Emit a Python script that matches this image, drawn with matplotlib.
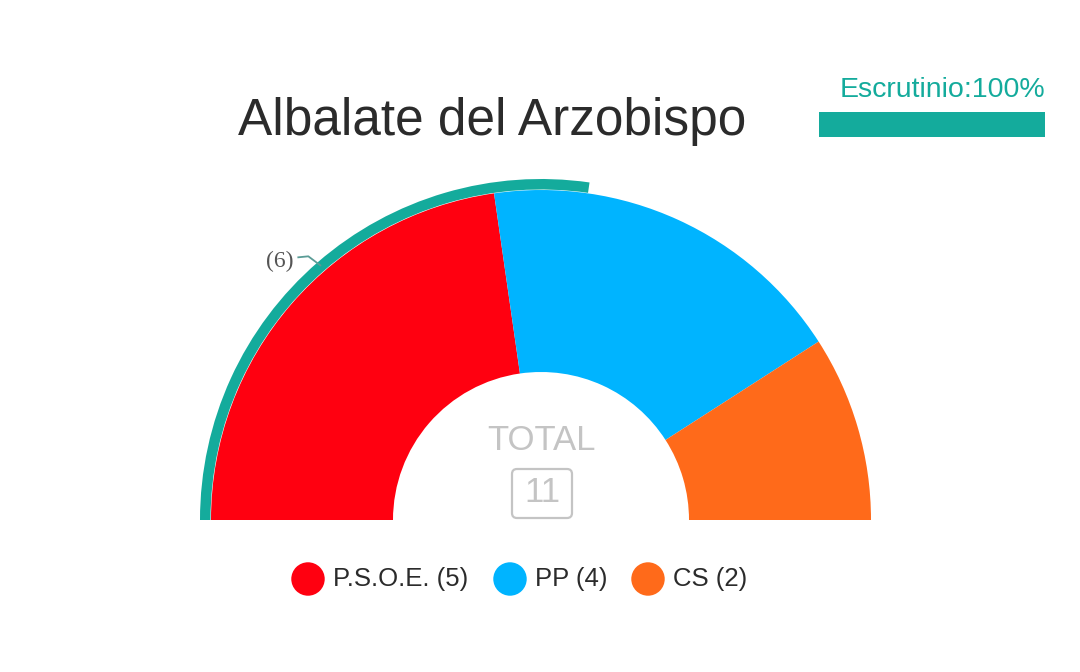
import numpy as np
import matplotlib
matplotlib.use("Agg")
import matplotlib.pyplot as plt
from matplotlib.patches import Wedge, FancyBboxPatch

# data
parties = ["P.S.O.E.", "PP", "CS"]
seats = [5, 4, 2]
colors = ["#ff0010", "#00b4ff", "#ff6a1a"]
majority = 6
scrutiny = 100
title = "Albalate del Arzobispo"

teal = "#14ab9c"
grey = "#c4c4c4"

fig = plt.figure(figsize=(10.8, 6.72), dpi=100)
ax = fig.add_axes([0, 0, 1, 1])
ax.set_xlim(0, 1080)
ax.set_ylim(0, 672)
ax.set_aspect("equal")
ax.axis("off")

cx, cy = 541, 672 - 520
r_out, r_in = 330, 148
total = sum(seats)

# hemicycle
start = 180.0
for s, c in zip(seats, colors):
    span = s / total * 180.0
    ax.add_patch(Wedge((cx, cy), r_out, start - span, start, width=r_out - r_in,
                       facecolor=c, edgecolor="none"))
    start -= span

# majority ring
maj_span = majority / total * 180.0
ax.add_patch(Wedge((cx, cy), 341, 180 - maj_span, 180, width=10.5,
                   facecolor=teal, edgecolor="none"))
mid = np.radians(180 - maj_span / 2)
p1 = (cx + 337 * np.cos(mid), cy + 337 * np.sin(mid))
p0 = (p1[0] - 22, p1[1] + 8)
ax.plot([p0[0], p0[0] + 10, p1[0]], [p0[1], p0[1] + 1, p1[1]], color="#5a9c96", lw=1.3)
ax.text(p0[0] - 5, p0[1] - 4, "(%d)" % majority, ha="right", va="center",
        fontsize=17, color="#555555", family="Liberation Serif")

# title
ax.text(492, 672 - 121, title, ha="center", va="center", fontsize=37,
        color="#2b2b2b", family="Liberation Sans")

# scrutiny
ax.text(1045, 672 - 90, "Escrutinio:%d%%" % scrutiny, ha="right", va="center",
        fontsize=20.5, color=teal, family="Liberation Sans")
bar_w = 226 * scrutiny / 100
ax.barh(672 - 124.5, bar_w, height=25, left=819, color=teal, align="center")

# total
ax.text(cx, 672 - 441, "TOTAL", ha="center", va="center", fontsize=25,
        color=grey, family="Liberation Sans")
ax.add_patch(FancyBboxPatch((512, 672 - 518), 60, 49,
                            boxstyle="round,pad=0,rounding_size=5",
                            facecolor="white", edgecolor=grey, lw=1.6))
ax.text(cx + 1, 672 - 493, str(total), ha="center", va="center", fontsize=25,
        color=grey, family="Liberation Sans")

# legend
leg_x = [308, 510, 648]
for x, p, s, c in zip(leg_x, parties, seats, colors):
    ax.scatter([x], [672 - 579], s=580, color=c, edgecolors="none")
    ax.text(x + 25, 672 - 579, "%s (%d)" % (p, s), ha="left", va="center",
            fontsize=18.5, color="#2b2b2b", family="Liberation Sans")

fig.savefig("out.png", dpi=100)
